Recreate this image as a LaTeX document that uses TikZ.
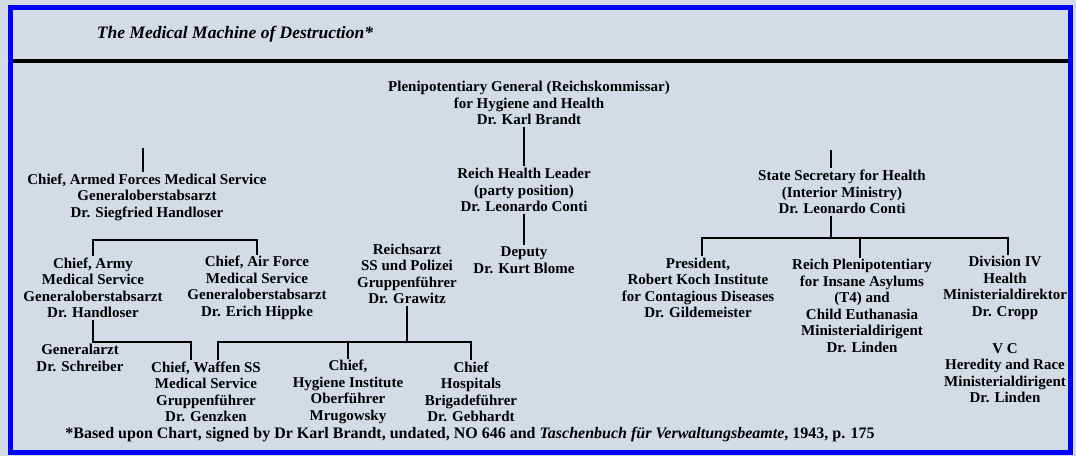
\documentclass[tikz,border=0pt]{standalone}
\usepackage{fontspec}
\setmainfont{Liberation Serif}
\definecolor{bg}{HTML}{D3DCE4}
\definecolor{frameblue}{HTML}{0000FF}
\tikzset{
  lbl/.style={align=center, font=\fontsize{15}{16.5}\selectfont\bfseries, inner sep=1.5pt},
  ttl/.style={font=\fontsize{17.5}{19}\selectfont\bfseries\itshape, inner sep=0pt},
  note/.style={font=\fontsize{16}{18}\selectfont\bfseries, inner sep=0pt},
  conn/.style={line width=1.8pt, black},
}
\begin{document}
\begin{tikzpicture}[x=1pt,y=-1pt]
\fill[bg] (0,0) rectangle (1076,456);
\useasboundingbox (0,0) rectangle (1076,456);
\draw[frameblue, line width=5pt] (10.5,7.5) rectangle (1070.5,452.5);
\draw[line width=4.5pt] (13,61) -- (1068,61);

\node[ttl] (title) at (235,34) {The Medical Machine of Destruction*};

\node[lbl] (brandt) at (529,103) {Plenipotentiary General (Reichskommissar)\\for Hygiene and Health\\Dr. Karl Brandt};
\node[lbl] (handloser) at (147,197) {Chief, Armed Forces Medical Service\\Generaloberstabsarzt\\Dr. Siegfried Handloser};
\node[lbl] (conti1) at (524,190) {Reich Health Leader\\(party position)\\Dr. Leonardo Conti};
\node[lbl] (blome) at (524,260) {Deputy\\Dr. Kurt Blome};
\node[lbl] (conti2) at (842,192) {State Secretary for Health\\(Interior Ministry)\\Dr. Leonardo Conti};

\node[lbl] (army) at (93,288) {Chief, Army\\Medical Service\\Generaloberstabsarzt\\Dr. Handloser};
\node[lbl] (airforce) at (257,288) {Chief, Air Force\\Medical Service\\Generaloberstabsarzt\\Dr. Erich Hippke};
\node[lbl] (grawitz) at (407,274) {Reichsarzt\\SS und Polizei\\Gruppenführer\\Dr. Grawitz};

\node[lbl] (schreiber) at (80,358) {Generalarzt\\Dr. Schreiber};
\node[lbl] (genzken) at (206,392) {Chief, Waffen SS\\Medical Service\\Gruppenführer\\Dr. Genzken};
\node[lbl] (mrugowsky) at (348,392) {Chief,\\Hygiene Institute\\Oberführer\\Mrugowsky};
\node[lbl] (gebhardt) at (471,392) {Chief\\Hospitals\\Brigadeführer\\Dr. Gebhardt};

\node[lbl] (president) at (698,288) {President,\\Robert Koch Institute\\for Contagious Diseases\\Dr. Gildemeister};
\node[lbl] (linden1) at (862,306) {Reich Plenipotentiary\\for Insane Asylums\\(T4) and\\Child Euthanasia\\Ministerialdirigent\\Dr. Linden};
\node[lbl] (cropp) at (1005,288) {Division IV\\Health\\Ministerialdirektor\\Dr. Cropp};
\node[lbl] (linden2) at (1005,373) {V C\\Heredity and Race\\Ministerialdirigent\\Dr. Linden};

\node[note] (fn) at (470,435) {*Based upon Chart, signed by Dr Karl Brandt, undated, NO 646 and \textit{Taschenbuch für Verwaltungsbeamte}, 1943, p. 175};

% connectors, centre column
\draw[conn] (brandt.south -| conti1.north) -- (conti1.north);
\draw[conn] (conti1.south) -- (blome.north);

% left column
\coordinate (tickL) at (143,148);
\draw[conn] (tickL) -- (tickL |- handloser.north);
\draw[conn] (army.north) -- (army.north |- 0,240) -| (airforce.north);
\draw[conn] (army.south) -- (army.south |- schreiber.north);
\coordinate (jA) at (army.south |- 0,342);
\draw[conn] (jA) -| ([xshift=-15pt]genzken.north);
\coordinate (jG) at (grawitz.south |- 0,342);
\draw[conn] (grawitz.south) -- (jG);
\draw[conn] ([xshift=12pt]genzken.north) |- (jG) -| (gebhardt.north);
\draw[conn] (mrugowsky.north) -- (mrugowsky.north |- jG);

% right column
\coordinate (tickR) at (831,150);
\draw[conn] (tickR) -- (tickR |- conti2.north);
\coordinate (c2s) at ([xshift=-11pt]conti2.south);
\coordinate (pN) at ([xshift=4pt]president.north);
\coordinate (cN) at ([xshift=3pt]cropp.north);
\coordinate (lN) at ([xshift=-2pt]linden1.north);
\draw[conn] (c2s) -- (c2s |- 0,238);
\draw[conn] (pN) -- (pN |- 0,238) -| (cN);
\draw[conn] (lN) -- (lN |- 0,238);
\end{tikzpicture}
\end{document}
